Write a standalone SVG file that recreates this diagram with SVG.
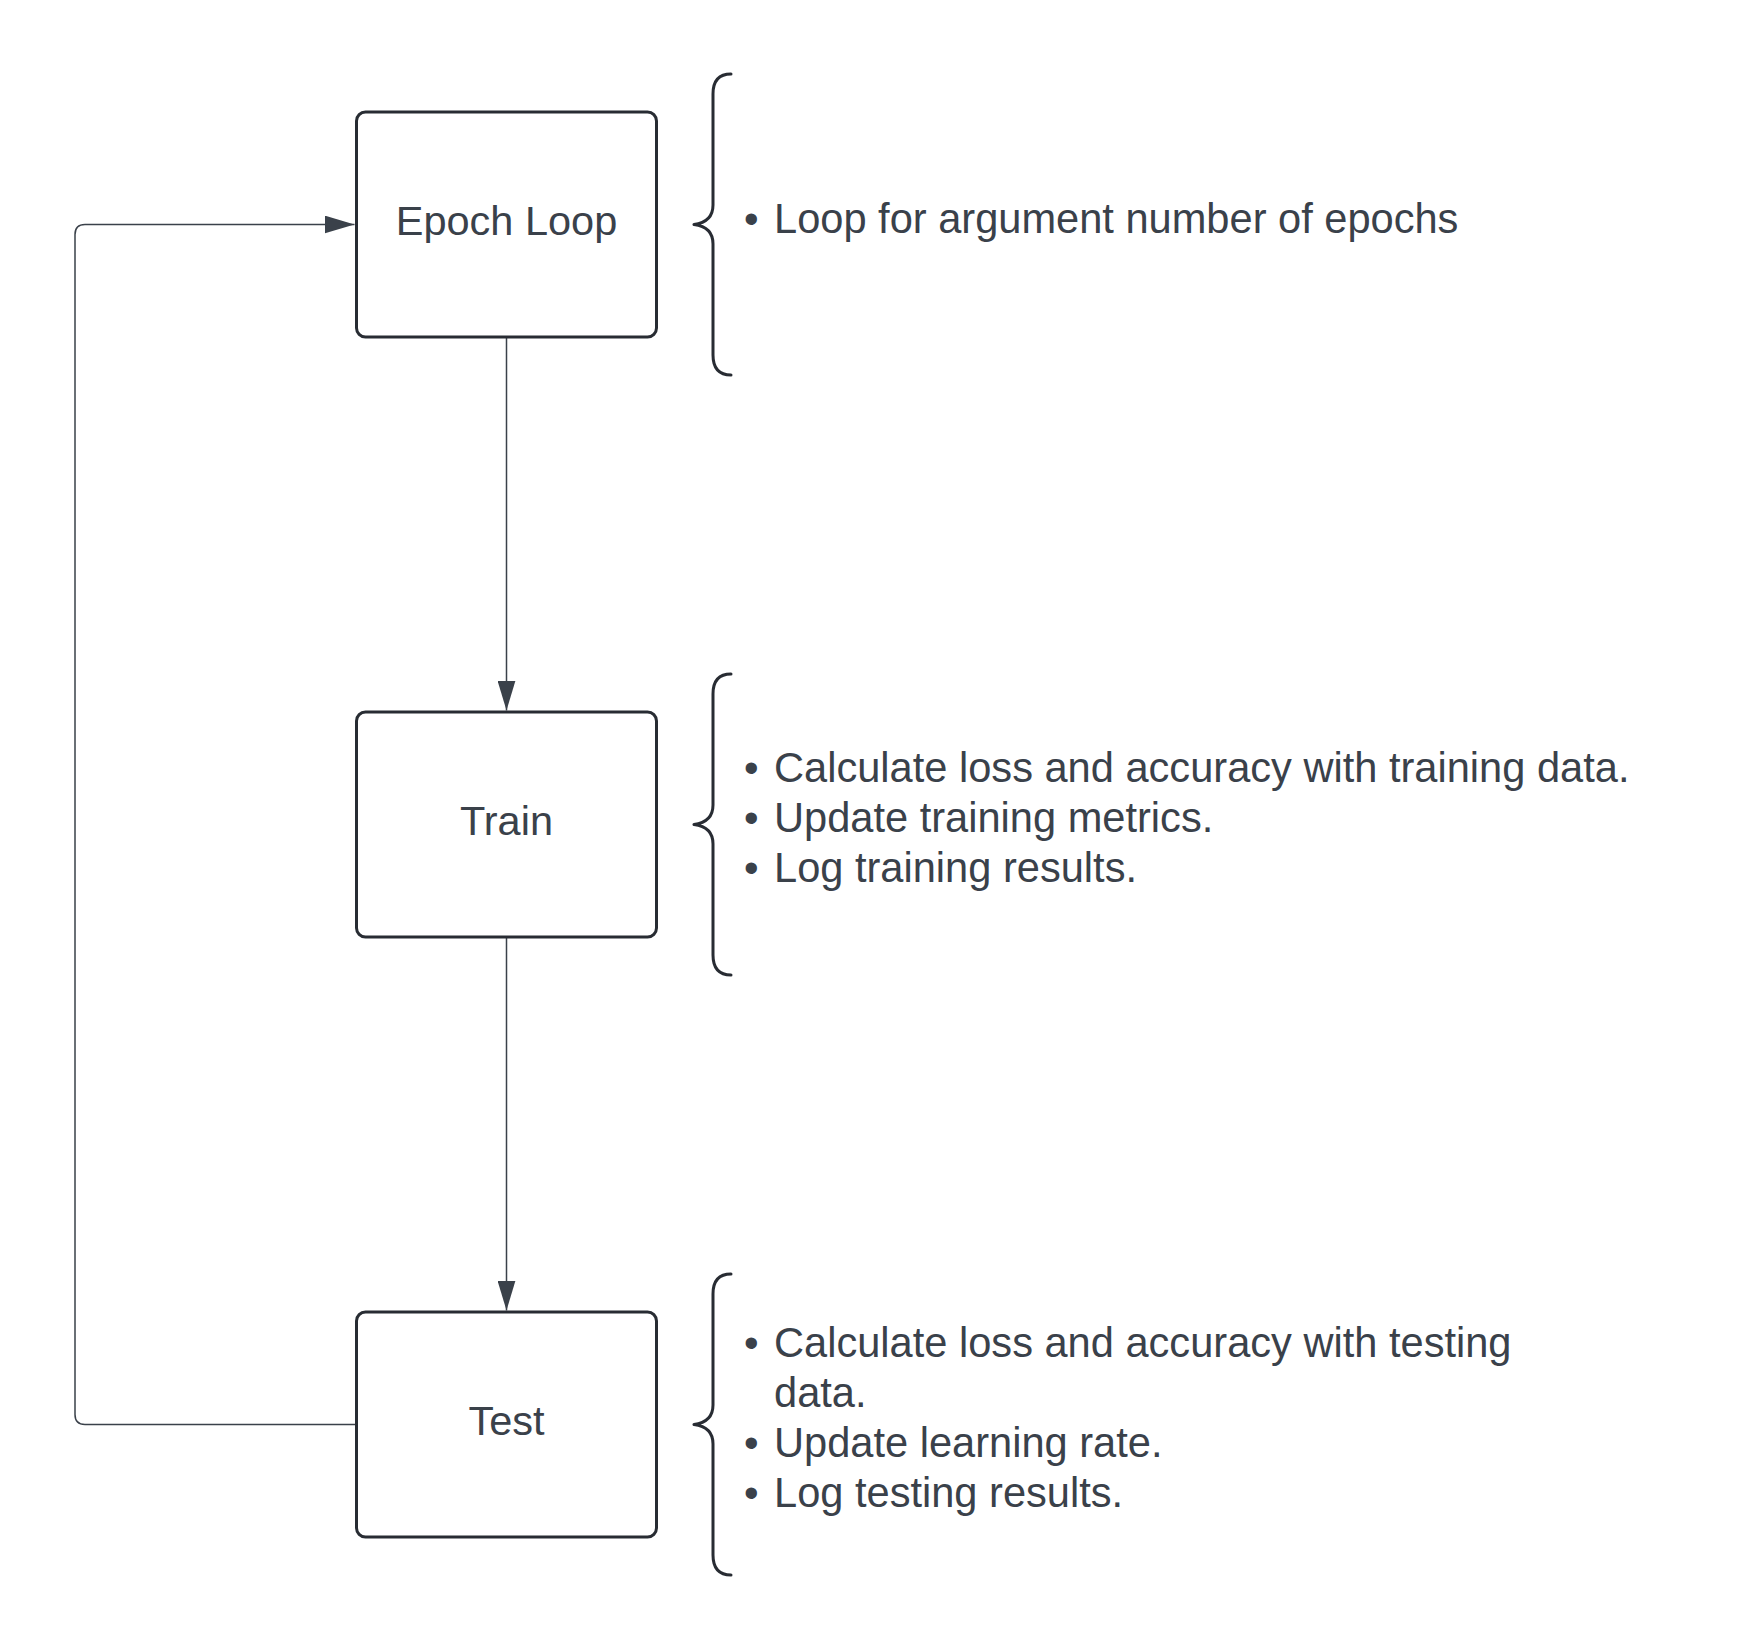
<svg xmlns="http://www.w3.org/2000/svg" width="1744" height="1650" viewBox="0 0 1744 1650">
  <style>
    .box { fill: #ffffff; stroke: #282c33; stroke-width: 3; }
    .label { font-family: "Liberation Sans", Arial, sans-serif; font-size: 41.5px; fill: #3a414a; text-anchor: middle; }
    .note { font-family: "Liberation Sans", Arial, sans-serif; font-size: 41.6px; fill: #3a414a; }
    .brace { fill: none; stroke: #282c33; stroke-width: 3; stroke-linecap: round; stroke-linejoin: round; }
    .edge { fill: none; stroke: #3a414a; stroke-width: 1.5; }
  </style>
  <defs>
    <marker id="arrow" markerUnits="userSpaceOnUse" viewBox="0 0 30 18" refX="30" refY="9" markerWidth="30" markerHeight="18" orient="auto">
      <path d="M0,0 L30,9 L0,18 Z" fill="#3a414a"/>
    </marker>
  </defs>
  <rect width="1744" height="1650" fill="#ffffff"/>

  <g id="connectors">
    <path class="edge" d="M506.5,337 L506.5,710.5" marker-end="url(#arrow)"/>
    <path class="edge" d="M506.5,937 L506.5,1310.5" marker-end="url(#arrow)"/>
    <path class="edge" d="M356,1424.5 L85,1424.5 Q75,1424.5 75,1414.5 L75,234.5 Q75,224.5 85,224.5 L354.5,224.5" marker-end="url(#arrow)"/>
  </g>

  <g id="node-epoch">
    <rect class="box" x="356.5" y="112" width="300" height="225" rx="9"/>
    <text class="label" x="506.5" y="235">Epoch Loop</text>
  </g>
  <g id="node-train">
    <rect class="box" x="356.5" y="712" width="300" height="225" rx="9"/>
    <text class="label" x="506.5" y="835">Train</text>
  </g>
  <g id="node-test">
    <rect class="box" x="356.5" y="1312" width="300" height="225" rx="9"/>
    <text class="label" x="506.5" y="1435">Test</text>
  </g>

  <g id="note-epoch">
    <path class="brace" d="M731,74 Q713,74 713,94 L713,205 Q713,222 694,224.5 Q713,227 713,244 L713,355 Q713,375 731,375"/>
    <text class="note" x="744" y="233">•</text>
    <text class="note" x="774" y="233">Loop for argument number of epochs</text>
  </g>
  <g id="note-train">
    <path class="brace" d="M731,674 Q713,674 713,694 L713,805 Q713,822 694,824.5 Q713,827 713,844 L713,955 Q713,975 731,975"/>
    <text class="note" x="744" y="782">•</text>
    <text class="note" x="774" y="782">Calculate loss and accuracy with training data.</text>
    <text class="note" x="744" y="832">•</text>
    <text class="note" x="774" y="832">Update training metrics.</text>
    <text class="note" x="744" y="882">•</text>
    <text class="note" x="774" y="882">Log training results.</text>
  </g>
  <g id="note-test">
    <path class="brace" d="M731,1274 Q713,1274 713,1294 L713,1405 Q713,1422 694,1424.5 Q713,1427 713,1444 L713,1555 Q713,1575 731,1575"/>
    <text class="note" x="744" y="1357">•</text>
    <text class="note" x="774" y="1357">Calculate loss and accuracy with testing</text>
    <text class="note" x="774" y="1407">data.</text>
    <text class="note" x="744" y="1457">•</text>
    <text class="note" x="774" y="1457">Update learning rate.</text>
    <text class="note" x="744" y="1507">•</text>
    <text class="note" x="774" y="1507">Log testing results.</text>
  </g>
</svg>
